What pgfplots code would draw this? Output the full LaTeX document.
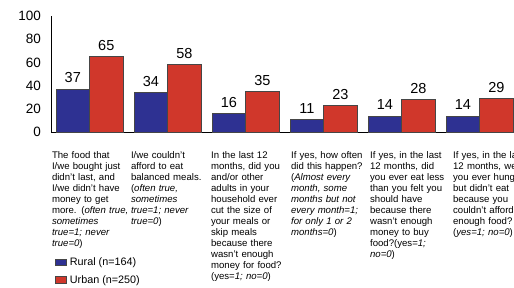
\documentclass[border=0pt]{standalone}
\usepackage{fontspec}
\setmainfont{Liberation Sans}
\usepackage{pgfplots}
\pgfplotsset{compat=1.18}
\definecolor{rural}{RGB}{46,49,146}
\definecolor{urban}{RGB}{208,55,43}
\definecolor{edge}{RGB}{70,70,70}
\begin{document}
\begin{tikzpicture}
\begin{axis}[
 at={(51pt,155.7pt)}, anchor=south west,
 scale only axis, width=463pt, height=116.3pt,
 xmin=-0.494, xmax=5.44, ymin=0, ymax=100,
 ybar=0pt, bar width=33.5pt,
 axis x line=bottom, axis y line=left,
 axis line style={-, line width=0.9pt, black},
 major tick length=0pt,
 ytick={0,20,40,60,80,100},
 xtick={0.006,1.019,2.045,3.07,4.083,5.147},
 xticklabels={
  {The food that\\I/we bought just\\didn't last, and\\I/we didn't have\\money to get\\more. (\textit{often true,}\\\textit{sometimes}\\\textit{true=1; never}\\\textit{true=0})},
  {I/we couldn't\\afford to eat\\balanced meals.\\(\textit{often true,}\\\textit{sometimes}\\\textit{true=1; never}\\\textit{true=0})},
  {In the last 12\\months, did you\\and/or other\\adults in your\\household ever\\cut the size of\\your meals or\\skip meals\\because there\\wasn't enough\\money for food?\\(yes=\textit{1; no=0})},
  {If yes, how often\\did this happen?\\(\textit{Almost every}\\\textit{month, some}\\\textit{months but not}\\\textit{every month=1;}\\\textit{for only 1 or 2}\\\textit{months=0})},
  {If yes, in the last\\12 months, did\\you ever eat less\\than you felt you\\should have\\because there\\wasn't enough\\money to buy\\food?(yes=\textit{1;}\\\textit{no=0})},
  {If yes, in the last\\12 months, were\\you ever hungry\\but didn't eat\\because you\\couldn't afford\\enough food?\\(\textit{yes=1; no=0})}
 },
 xticklabel style={anchor=north, text width=84pt, align=left, inner sep=0pt, xshift=4pt, yshift=-19pt, font=\fontsize{9.6}{11}\selectfont},
 /pgf/number format/assume math mode=true,
 yticklabel style={font=\fontsize{13.5}{14}\selectfont, inner sep=0pt, xshift=-10pt},
 nodes near coords,
 every node near coord/.append style={font=\fontsize{14.5}{15}\selectfont, inner sep=0pt, yshift=6pt, black},
 legend style={at={(axis description cs:0.0086,-1.064)}, anchor=north west, draw=none, fill=none,
   font=\fontsize{10.8}{12}\selectfont, row sep=5.5pt, inner sep=0pt, nodes={inner sep=1.5pt}},
 legend cell align=left,
 legend image code/.code={\draw[#1] (0pt,-3pt) rectangle (11pt,3.5pt);},
]
\addplot[fill=rural, draw=edge, line width=0.7pt] coordinates {(0,37) (1,34) (2,16) (3,11) (4,14) (5,14)};
\addplot[fill=urban, draw=edge, line width=0.7pt] coordinates {(0,65) (1,58) (2,35) (3,23) (4,28) (5,29)};
\legend{\hspace{1.5pt}Rural (n=164), \hspace{1.5pt}Urban (n=250)}
\end{axis}
\pgfresetboundingbox
\useasboundingbox (0,0) rectangle (514pt,288pt);
\end{tikzpicture}
\end{document}
